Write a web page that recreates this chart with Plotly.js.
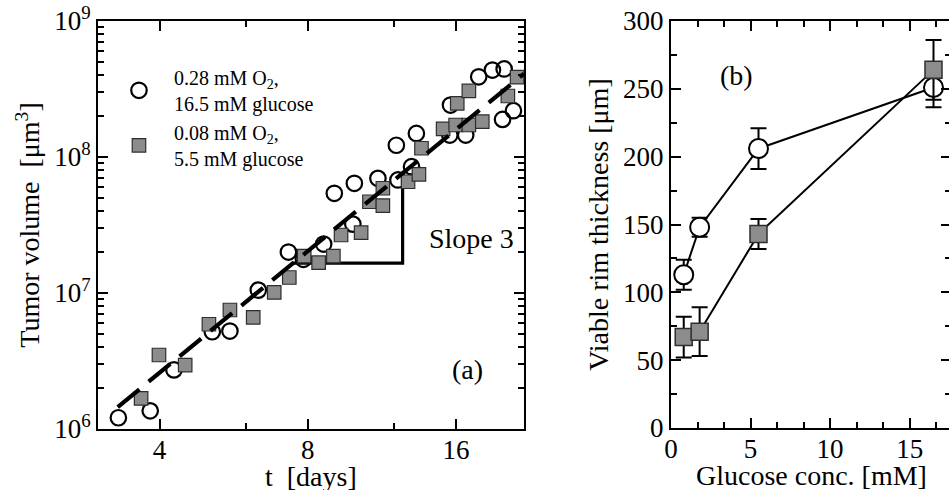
<!DOCTYPE html>
<html>
<head>
<meta charset="utf-8">
<script src="https://cdn.plot.ly/plotly-3.0.1.min.js"></script>
<style>
html,body{margin:0;padding:0;overflow:hidden;background:#fff;}
#plot{width:960px;height:490px;}
</style>
</head>
<body>
<div id="plot"></div>
<script>
// ---------- Panel (a): tumor volume vs time ----------
var tCircles = [3.30,3.83,4.28,5.12,5.56,6.35,7.31,7.84,8.62,9.88,9.06,9.95,11.11,12.2,13.0,12.11,13.3,15.6,15.55,16.75,17.8,18.98,20.05,19.9,20.94];
var vCircles = [1.21e6,1.36e6,2.72e6,5.19e6,5.25e6,1.05e7,2.0e7,1.77e7,2.29e7,3.21e7,5.41e7,6.41e7,6.97e7,6.78e7,8.49e7,1.22e8,1.49e8,2.41e8,1.45e8,1.45e8,3.89e8,4.36e8,4.44e8,1.89e8,2.19e8];
var tSquares = [3.67,3.99,4.51,5.04,5.56,6.20,6.84,7.34,7.87,8.42,9.02,9.35,10.27,10.68,11.37,11.37,12.79,13.46,13.62,15.07,15.98,17.0,18.1,16.1,17.0,20.4,21.3];
var vSquares = [1.68e6,3.50e6,2.95e6,5.89e6,7.50e6,6.63e6,1.01e7,1.30e7,1.87e7,1.67e7,1.87e7,2.67e7,2.78e7,4.69e7,5.89e7,4.39e7,6.58e7,7.46e7,1.16e8,1.61e8,1.72e8,1.72e8,1.82e8,2.48e8,3.06e8,2.81e8,3.87e8];
var fitT = [3.29, 22];
var fitV = [1.45e6, 4.1e8];
var slopeT = [7.47, 12.47, 12.47];
var slopeV = [1.66e7, 1.66e7, 7.77e7];
var legendCircle = "0.28 mM O<sub>2</sub>,<br>16.5 mM glucose";
var legendSquare = "0.08 mM O<sub>2</sub>,<br>5.5 mM glucose";

// ---------- Panel (b): viable rim thickness vs glucose ----------
var glucose = [0.8, 1.8, 5.5, 16.5];
var rimCircles = [113, 148, 206, 251];
var errCircles = [11, 7, 15, 14.5];
var rimSquares = [67, 71, 143, 264];
var errSquares = [15, 18, 11, 22];

// tick labels
var xTicksA = [4, 8, 16];
var xTickTextA = ["4", "8", "16"];
var xMinorA = [6, 12];
var yTicksA = [1e6, 1e7, 1e8, 1e9];
var yTickTextA = ["10<sup>6</sup>", "10<sup>7</sup>", "10<sup>8</sup>", "10<sup>9</sup>"];

var yMinorA = [];
[1e6, 1e7, 1e8].forEach(function (d) { for (var k = 2; k <= 9; k++) yMinorA.push(k * d); });

var FONT = "Liberation Serif";
var SQFILL = "#8c8c8c";
var SQLINE = "#2e2e2e";
var NB = "\u00a0";

var traces = [
  {x: slopeT, y: slopeV, xaxis: "x", yaxis: "y", mode: "lines", line: {color: "#000", width: 3.2}, showlegend: false, hoverinfo: "skip"},
  {x: tCircles, y: vCircles, xaxis: "x", yaxis: "y", mode: "markers", name: legendCircle,
   marker: {symbol: "circle", size: 15.5, color: "rgba(255,255,255,0)", line: {color: "#000", width: 2.2}}},
  {x: tSquares, y: vSquares, xaxis: "x", yaxis: "y", mode: "markers", name: legendSquare,
   marker: {symbol: "square", size: 13.5, color: SQFILL, line: {color: SQLINE, width: 1.2}}},
  {x: fitT, y: fitV, xaxis: "x", yaxis: "y", mode: "lines", line: {color: "#000", width: 4.2, dash: "28px,12px"}, showlegend: false, hoverinfo: "skip"},
  {x: glucose, y: rimCircles, xaxis: "x2", yaxis: "y2", mode: "lines+markers", showlegend: false,
   line: {color: "#000", width: 2},
   error_y: {type: "data", array: errCircles, visible: true, color: "#000", thickness: 2, width: 8},
   marker: {symbol: "circle", size: 19, color: "#fff", line: {color: "#000", width: 2}}},
  {x: glucose, y: rimSquares, xaxis: "x2", yaxis: "y2", mode: "lines+markers", showlegend: false,
   line: {color: "#000", width: 2},
   error_y: {type: "data", array: errSquares, visible: true, color: "#000", thickness: 2, width: 8},
   marker: {symbol: "square", size: 17, color: SQFILL, line: {color: SQLINE, width: 1.5}}}
];

var axisCommon = {
  showline: true, linecolor: "#000", linewidth: 2, mirror: "allticks",
  ticks: "inside", ticklen: 10, tickwidth: 2, tickcolor: "#000",
  showgrid: false, zeroline: false,
  tickfont: {family: FONT, size: 27, color: "#000"}
};
function ax(extra) { return Object.assign({}, axisCommon, extra); }

var layout = {
  width: 960, height: 490,
  margin: {l: 0, r: 0, t: 0, b: 0},
  paper_bgcolor: "#fff", plot_bgcolor: "#fff",
  font: {family: FONT, color: "#000"},
  showlegend: true,
  legend: {x: 0.1083, y: 0.882, xanchor: "left", yanchor: "top", bgcolor: "rgba(0,0,0,0)",
           font: {family: FONT, size: 20, color: "#000"}, itemwidth: 60, tracegroupgap: 0},
  xaxis: ax({domain: [0.10208, 0.54583], type: "log", range: [Math.log10(3), Math.log10(22)],
    tickmode: "array", tickvals: xTicksA, ticktext: xTickTextA, ticklabelstandoff: -4,
    minor: {tickvals: xMinorA, ticks: "inside", ticklen: 6, tickwidth: 2, tickcolor: "#000"}}),
  yaxis: ax({domain: [0.1245, 0.9571], type: "log", range: [6, 9],
    tickmode: "array", tickvals: yTicksA, ticktext: yTickTextA,
    minor: {tickvals: yMinorA, ticks: "inside", ticklen: 6, tickwidth: 2, tickcolor: "#000"},
    title: {text: "Tumor volume" + NB + NB + "[μm<sup>3</sup>]", font: {family: FONT, size: 28}, standoff: 6}}),
  xaxis2: ax({domain: [0.69896, 0.99063], range: [0, 17.6], anchor: "y2",
    tick0: 0, dtick: 5, ticklabelstandoff: -4,
    minor: {dtick: 5 / 3, tick0: 0, ticks: "inside", ticklen: 6, tickwidth: 2, tickcolor: "#000"}}),
  yaxis2: ax({domain: [0.1265, 0.9571], range: [0, 300], anchor: "x2",
    tick0: 0, dtick: 50,
    minor: {dtick: 25, tick0: 0, ticks: "inside", ticklen: 6, tickwidth: 2, tickcolor: "#000"},
    title: {text: "Viable rim thickness [μm]", font: {family: FONT, size: 28}, standoff: 6}}),
  annotations: [
    {text: "t" + NB + NB + "[days]", xref: "x domain", yref: "paper", x: 0.5, y: 1 - 476 / 490, yanchor: "middle", showarrow: false, font: {family: FONT, size: 28, color: "#000"}},
    {text: "Glucose conc. [mM]", xref: "x2 domain", yref: "paper", x: 0.5, y: 1 - 475 / 490, yanchor: "middle", showarrow: false, font: {family: FONT, size: 28, color: "#000"}},
    {text: "Slope 3", xref: "x", yref: "y", x: Math.log10(17.24), y: Math.log10(2.53e7), showarrow: false, font: {family: FONT, size: 28, color: "#000"}},
    {text: "(a)", xref: "x", yref: "y", x: Math.log10(16.93), y: 6.441, showarrow: false, font: {family: FONT, size: 28, color: "#000"}},
    {text: "(b)", xref: "x2", yref: "y2", x: 4.13, y: 260, showarrow: false, font: {family: FONT, size: 28, color: "#000"}}
  ]
};

Plotly.newPlot("plot", traces, layout, {staticPlot: true, displayModeBar: false});
</script>
</body>
</html>
